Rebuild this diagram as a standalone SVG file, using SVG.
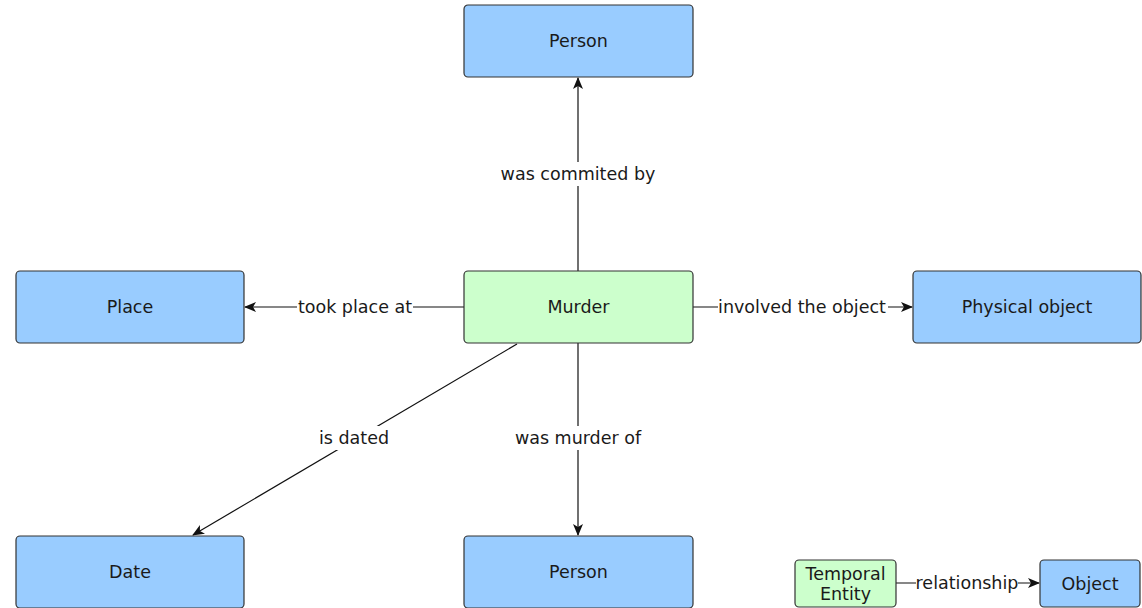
<svg xmlns="http://www.w3.org/2000/svg" width="1142" height="608" viewBox="0 0 1142 608">
<defs>
<marker id="arr" viewBox="0 0 12 10" refX="11" refY="5" markerWidth="12" markerHeight="10" markerUnits="userSpaceOnUse" orient="auto">
<path d="M0,0 L12,5 L0,10 L3,5 Z" fill="#111"/>
</marker>
<style>
.blue{fill:#99ccff;stroke:#333;stroke-width:1.2}
.green{fill:#ccffcc;stroke:#333;stroke-width:1.2}
.t{font-family:"DejaVu Sans",sans-serif;font-size:17.5px;fill:#1a1a1a;text-anchor:middle;dominant-baseline:central}
.e{stroke:#111;stroke-width:1.2;fill:none;marker-end:url(#arr)}
.bg{fill:#fff}
</style>
</defs>
<rect width="1142" height="608" fill="#fff"/>
<g id="edges">
<line class="e" x1="578" y1="271" x2="578" y2="78"/>
<line class="e" x1="464" y1="307" x2="245" y2="307"/>
<line class="e" x1="693" y1="307" x2="912" y2="307"/>
<line class="e" x1="578" y1="343" x2="578" y2="535"/>
<line class="e" x1="517" y1="344" x2="193" y2="535"/>
<line class="e" x1="896" y1="583" x2="1039" y2="583"/>
<rect class="bg" x="500" y="162" width="156" height="24"/>
<text class="t" x="578" y="174">was commited by</text>
<rect class="bg" x="297" y="295" width="116" height="24"/>
<text class="t" x="355" y="307">took place at</text>
<rect class="bg" x="718" y="295" width="170" height="24"/>
<text class="t" x="802" y="307">involved the object</text>
<rect class="bg" x="514" y="426" width="129" height="24"/>
<text class="t" x="578" y="438">was murder of</text>
<rect class="bg" x="318" y="426" width="72" height="24"/>
<text class="t" x="354" y="438">is dated</text>
<rect class="bg" x="916" y="571" width="102" height="24"/>
<text class="t" x="967" y="583">relationship</text>
</g>
<g id="person-top"><rect class="blue" x="464" y="5" width="229" height="72" rx="4"/><text class="t" x="578.5" y="41">Person</text></g>
<g id="murder"><rect class="green" x="464" y="271" width="229" height="72" rx="4"/><text class="t" x="578.5" y="307">Murder</text></g>
<g id="place"><rect class="blue" x="16" y="271" width="228" height="72" rx="4"/><text class="t" x="130" y="307">Place</text></g>
<g id="physical-object"><rect class="blue" x="913" y="271" width="228" height="72" rx="4"/><text class="t" x="1027" y="307">Physical object</text></g>
<g id="date"><rect class="blue" x="16" y="536" width="228" height="72" rx="4"/><text class="t" x="130" y="572">Date</text></g>
<g id="person-bottom"><rect class="blue" x="464" y="536" width="229" height="72" rx="4"/><text class="t" x="578.5" y="572">Person</text></g>
<g id="legend-temporal"><rect class="green" x="795" y="560" width="101" height="47" rx="4"/><text class="t" x="845.5" y="574">Temporal</text><text class="t" x="845.5" y="594">Entity</text></g>
<g id="legend-object"><rect class="blue" x="1040" y="560" width="100" height="47" rx="4"/><text class="t" x="1090" y="584">Object</text></g>
</svg>
